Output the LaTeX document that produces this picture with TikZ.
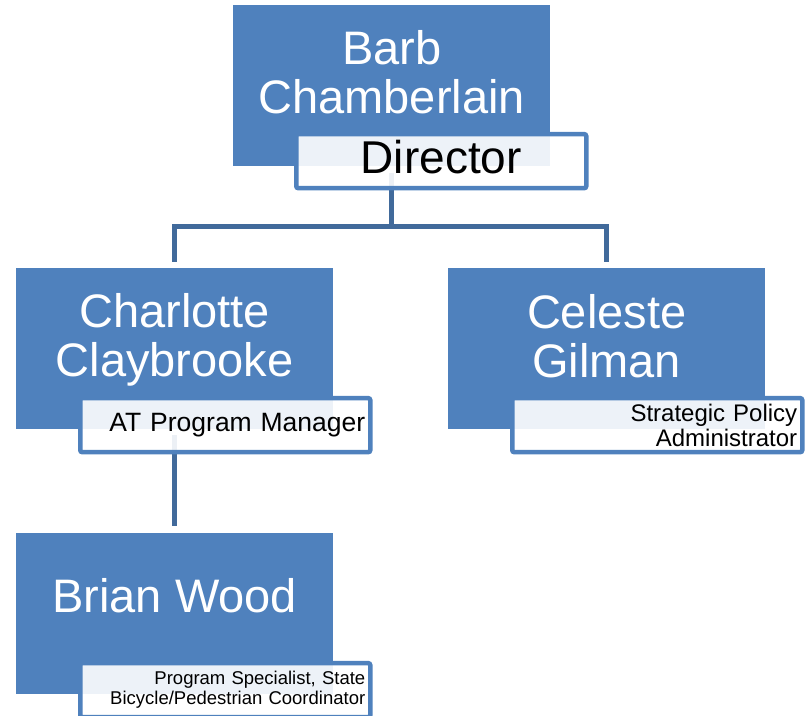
\documentclass[tikz,border=0pt]{standalone}
\usepackage{fontspec}
\setmainfont{Liberation Sans}
\usepackage{tikz}
\usetikzlibrary{calc,backgrounds}
\definecolor{boxblue}{RGB}{79,129,189}
\definecolor{linkblue}{RGB}{65,106,155}
\tikzset{%
  person/.style={%
    fill=boxblue, anchor=north west, inner sep=0pt,
    minimum width=317pt, minimum height=161pt
  },
  fullname/.style={text=white, align=center, font=\fontsize{47}{49}\selectfont},
  role/.style={%
    draw=boxblue, line width=4.5pt, rounded corners=2pt,
    fill=white, fill opacity=0.9, text opacity=1,
    anchor=north west, inner xsep=5pt, inner ysep=0pt,
    text width=280pt, minimum height=54pt, align=right
  },
  link/.style={draw=linkblue, line width=5pt}
}

\begin{document}
\begin{tikzpicture}[x=1pt, y=-1pt]
    \useasboundingbox (0,0) rectangle (806,715);

    \node [person] (barb) at (233,5) {};
    \node [person] (charlotte) at (16,268) {};
    \node [person] (celeste) at (448,268) {};
    \node [person] (brian) at (16,533) {};

    \node [fullname] (barb-n) at ($(barb.north)+(0,67)$) {Barb\\Chamberlain};
    \node [fullname] (charlotte-n) at ($(charlotte.north)+(0,72)$) {Charlotte\\Claybrooke};
    \node [fullname] (celeste-n) at ($(celeste.north)+(0,68)$) {Celeste\\Gilman};
    \node [fullname] (brian-n) at ($(brian.north)+(0,63)$) {Brian Wood};

    \node [role, align=center, text height=33pt, text depth=8pt,
      font=\fontsize{46}{48}\selectfont] (barb-r)
      at ($(barb.south west)+(61,-34.5)$) {Director};
    \node [role, font=\fontsize{26.5}{28}\selectfont] (charlotte-r)
      at ($(charlotte.south west)+(62,-33.5)$) {AT Program Manager};
    \node [role, font=\fontsize{24}{25}\selectfont] (celeste-r)
      at ($(celeste.south west)+(62,-33.5)$) {Strategic Policy\\Administrator};
    \node [role, font=\fontsize{18.5}{20}\selectfont] (brian-r)
      at ($(brian.south west)+(62,-33.5)$) {Program Specialist, State\\Bicycle/Pedestrian Coordinator};

    \begin{scope}[on background layer]
    \draw [link] ([yshift=-7pt]barb.south) -- ++(0,53.5) coordinate (bus)
      -| ([yshift=6pt]charlotte.north);
    \draw [link] (bus) -| ([yshift=6pt]celeste.north);
    \draw [link] ([yshift=-6pt]charlotte.south) -- ([yshift=7pt]brian.north);
    \end{scope}
\end{tikzpicture}
\end{document}
